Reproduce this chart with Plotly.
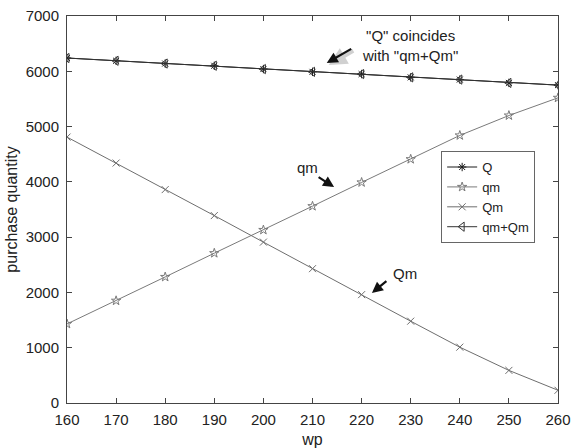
import plotly.graph_objects as go

# wholesale price levels
wp = [160, 170, 180, 190, 200, 210, 220, 230, 240, 250, 260]

# purchase quantities
Q = [6240, 6190, 6140, 6100, 6040, 5990, 5950, 5890, 5850, 5790, 5750]
qm = [1430, 1850, 2280, 2710, 3130, 3560, 3990, 4410, 4840, 5200, 5520]
Qm = [4810, 4340, 3860, 3390, 2910, 2430, 1960, 1480, 1010, 590, 230]
qm_plus_Qm = [6240, 6190, 6140, 6100, 6040, 5990, 5950, 5890, 5850, 5790, 5750]

x_ticks = [160, 170, 180, 190, 200, 210, 220, 230, 240, 250, 260]
y_ticks = [0, 1000, 2000, 3000, 4000, 5000, 6000, 7000]

FONT = "Liberation Sans, Arial, sans-serif"

fig = go.Figure()

series = [
    ("Q", Q, "#1a1a1a", "asterisk-open", 7),
    ("qm", qm, "#7a7a7a", "star-open", 7),
    ("Qm", Qm, "#6e6e6e", "x-thin-open", 7),
    ("qm+Qm", qm_plus_Qm, "#333333", "triangle-left-open", 8),
]
for name, vals, color, sym, size in series:
    fig.add_trace(go.Scatter(
        x=wp, y=vals, name=name, mode="lines+markers",
        line=dict(color=color, width=1),
        marker=dict(symbol=sym, size=size, color=color,
                    line=dict(color=color, width=1)),
    ))

# arrows: a soft grey copy underneath gives the drop shadow
def arrow(x, y, ax, ay, shadow=False):
    if shadow:
        fig.add_annotation(x=x, y=y, ax=ax, ay=ay, text="", showarrow=True,
                           arrowhead=2, arrowsize=0.9, arrowwidth=4,
                           arrowcolor="rgba(0,0,0,0.18)", xshift=2, yshift=-2)
    fig.add_annotation(x=x, y=y, ax=ax, ay=ay, text="", showarrow=True,
                       arrowhead=2, arrowsize=1.0, arrowwidth=2.2,
                       arrowcolor="#111111")

arrow(212.9, 6150, 26, -15, shadow=True)
arrow(214.4, 3905, -17, -11)
arrow(222.1, 1990, 16, -13)

fig.add_annotation(x=229.9, y=6460, text='"Q" coincides<br>with "qm+Qm"',
                   showarrow=False, font=dict(family=FONT, size=15, color="#222"))
fig.add_annotation(x=208.9, y=4268, text="qm", showarrow=False,
                   font=dict(family=FONT, size=15, color="#222"))
fig.add_annotation(x=228.8, y=2350, text="Qm", showarrow=False,
                   font=dict(family=FONT, size=15, color="#222"))

axis_common = dict(
    showline=True, linecolor="#444", linewidth=1, mirror="ticks",
    ticks="inside", ticklen=5, tickcolor="#444", showgrid=False,
    zeroline=False, automargin=False,
    tickfont=dict(family=FONT, size=15, color="#222"),
)

fig.update_layout(
    width=571, height=448,
    margin=dict(l=67, r=13, t=16, b=45),
    paper_bgcolor="white", plot_bgcolor="white",
    font=dict(family=FONT, size=13, color="#222"),
    xaxis=dict(range=[160, 260], tickvals=x_ticks, ticklabelstandoff=3,
               title=dict(text="wp", standoff=7, font=dict(size=16)),
               **axis_common),
    yaxis=dict(range=[0, 7000], tickvals=y_ticks, ticklabelstandoff=4,
               title=dict(text="purchase quantity", standoff=4, font=dict(size=16)),
               **axis_common),
    legend=dict(x=0.762, y=0.651, xanchor="left", yanchor="top",
                bordercolor="#666", borderwidth=1, bgcolor="white",
                font=dict(family=FONT, size=13, color="#222"),
                tracegroupgap=0, itemwidth=30),
    showlegend=True,
)

fig.write_html("out.html")
